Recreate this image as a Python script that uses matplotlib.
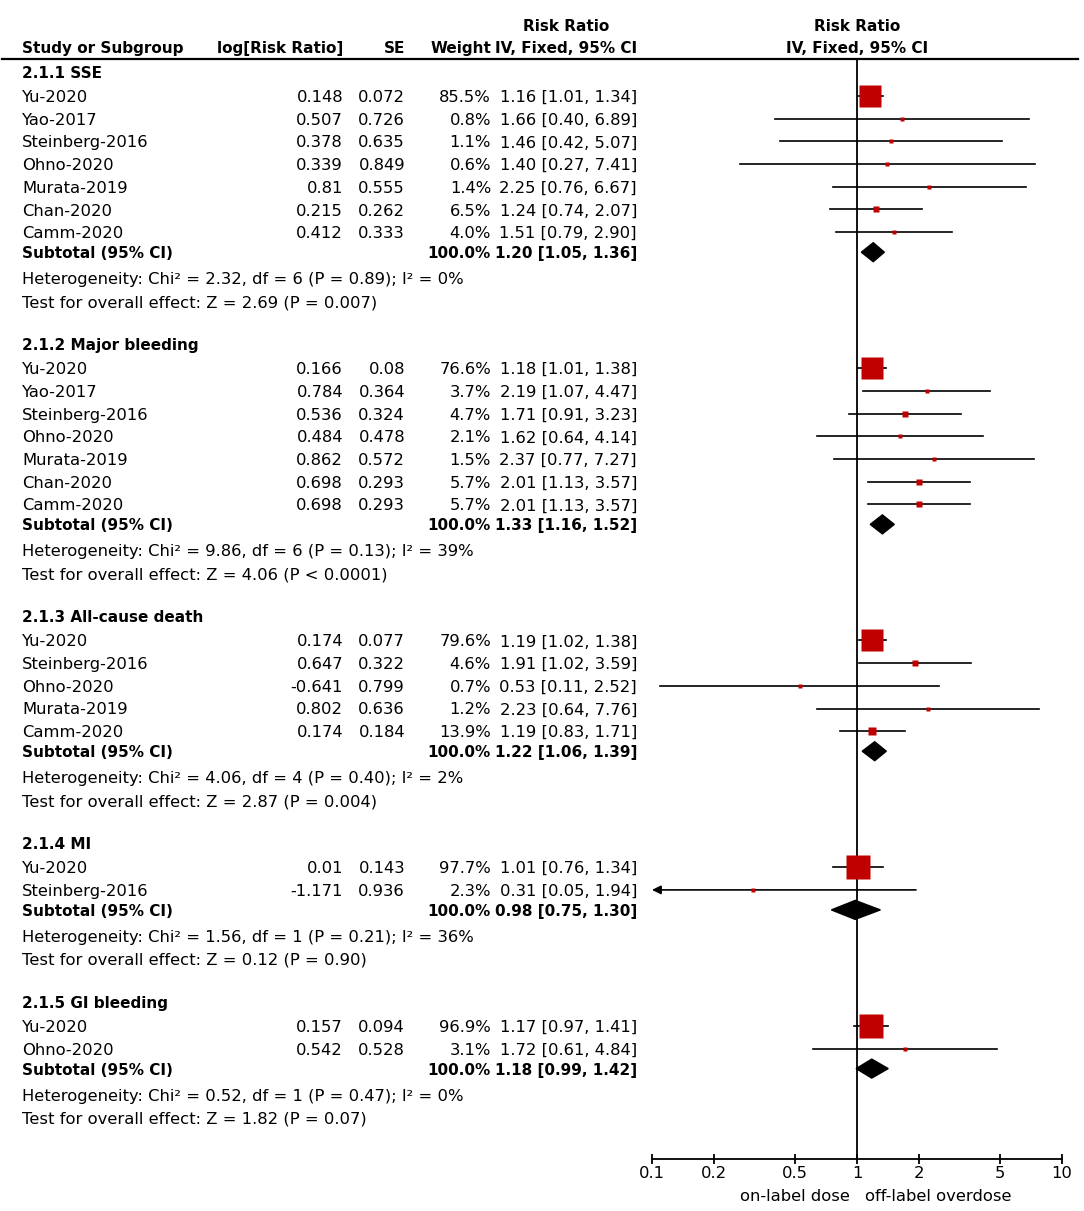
import numpy as np
import matplotlib.pyplot as plt

plt.rcParams['font.family'] = 'DejaVu Sans'
FS = 11.8
FS_BOLD = 11

groups = ["2.1.1 SSE", "2.1.2 Major bleeding", "2.1.3 All-cause death", "2.1.4 MI", "2.1.5 GI bleeding"]

studies = [
    ["Yu-2020", "Yao-2017", "Steinberg-2016", "Ohno-2020", "Murata-2019", "Chan-2020", "Camm-2020"],
    ["Yu-2020", "Yao-2017", "Steinberg-2016", "Ohno-2020", "Murata-2019", "Chan-2020", "Camm-2020"],
    ["Yu-2020", "Steinberg-2016", "Ohno-2020", "Murata-2019", "Camm-2020"],
    ["Yu-2020", "Steinberg-2016"],
    ["Yu-2020", "Ohno-2020"],
]
log_rr = [
    [0.148, 0.507, 0.378, 0.339, 0.81, 0.215, 0.412],
    [0.166, 0.784, 0.536, 0.484, 0.862, 0.698, 0.698],
    [0.174, 0.647, -0.641, 0.802, 0.174],
    [0.01, -1.171],
    [0.157, 0.542],
]
se = [
    [0.072, 0.726, 0.635, 0.849, 0.555, 0.262, 0.333],
    [0.08, 0.364, 0.324, 0.478, 0.572, 0.293, 0.293],
    [0.077, 0.322, 0.799, 0.636, 0.184],
    [0.143, 0.936],
    [0.094, 0.528],
]
weight = [
    [85.5, 0.8, 1.1, 0.6, 1.4, 6.5, 4.0],
    [76.6, 3.7, 4.7, 2.1, 1.5, 5.7, 5.7],
    [79.6, 4.6, 0.7, 1.2, 13.9],
    [97.7, 2.3],
    [96.9, 3.1],
]
rr = [
    [1.16, 1.66, 1.46, 1.40, 2.25, 1.24, 1.51],
    [1.18, 2.19, 1.71, 1.62, 2.37, 2.01, 2.01],
    [1.19, 1.91, 0.53, 2.23, 1.19],
    [1.01, 0.31],
    [1.17, 1.72],
]
rr_lo = [
    [1.01, 0.40, 0.42, 0.27, 0.76, 0.74, 0.79],
    [1.01, 1.07, 0.91, 0.64, 0.77, 1.13, 1.13],
    [1.02, 1.02, 0.11, 0.64, 0.83],
    [0.76, 0.05],
    [0.97, 0.61],
]
rr_hi = [
    [1.34, 6.89, 5.07, 7.41, 6.67, 2.07, 2.90],
    [1.38, 4.47, 3.23, 4.14, 7.27, 3.57, 3.57],
    [1.38, 3.59, 2.52, 7.76, 1.71],
    [1.34, 1.94],
    [1.41, 4.84],
]
sub_rr = [1.20, 1.33, 1.22, 0.98, 1.18]
sub_lo = [1.05, 1.16, 1.06, 0.75, 0.99]
sub_hi = [1.36, 1.52, 1.39, 1.30, 1.42]
het_chi2 = ["2.32", "9.86", "4.06", "1.56", "0.52"]
het_df = [6, 6, 4, 1, 1]
het_p = ["0.89", "0.13", "0.40", "0.21", "0.47"]
het_i2 = ["0%", "39%", "2%", "36%", "0%"]
z_val = ["2.69", "4.06", "2.87", "0.12", "1.82"]
z_p = ["= 0.007", "< 0.0001", "= 0.004", "= 0.90", "= 0.07"]

ticks = [0.1, 0.2, 0.5, 1, 2, 5, 10]
tick_labels = ["0.1", "0.2", "0.5", "1", "2", "5", "10"]

W, H = 1084, 1211
fig = plt.figure(figsize=(W / 100, H / 100), dpi=100)
tax = fig.add_axes([0, 0, 1, 1])
tax.set_xlim(0, W)
tax.set_ylim(H, 0)
tax.axis('off')

x0, x1, ytop, ybot = 652, 1062, 60, 1159
fax = fig.add_axes([x0 / W, (H - ybot) / H, (x1 - x0) / W, (ybot - ytop) / H])
fax.set_xscale('log')
fax.set_xlim(0.1, 10)
fax.set_ylim(ybot, ytop)
fax.patch.set_alpha(0)
for s in ['left', 'right', 'top']:
    fax.spines[s].set_visible(False)
fax.spines['bottom'].set_linewidth(1.3)
fax.set_yticks([])
fax.set_xticks(ticks)
fax.set_xticklabels(tick_labels, fontsize=FS)
fax.minorticks_off()
fax.tick_params(axis='x', direction='inout', length=7, width=1.3, pad=1.5)
fax.axvline(1, color='black', lw=1.3)


def txt(x, y, s, ha='left', bold=False):
    tax.text(x, y, s, ha=ha, va='center_baseline',
             fontsize=FS_BOLD if bold else FS,
             fontweight='bold' if bold else 'normal')


# header
txt(566, 25, "Risk Ratio", ha='center', bold=True)
txt(857, 25, "Risk Ratio", ha='center', bold=True)
txt(22, 47, "Study or Subgroup", bold=True)
txt(343, 47, "log[Risk Ratio]", ha='right', bold=True)
txt(405, 47, "SE", ha='right', bold=True)
txt(491, 47, "Weight", ha='right', bold=True)
txt(637, 47, "IV, Fixed, 95% CI", ha='right', bold=True)
txt(857, 47, "IV, Fixed, 95% CI", ha='center', bold=True)
tax.plot([2, 1078], [59, 59], color='black', lw=1.6)

red = '#C00000'
y = 72
for g in range(len(groups)):
    txt(22, y, groups[g], bold=True)
    y += 24
    for i in range(len(studies[g])):
        txt(22, y, studies[g][i])
        txt(343, y, str(log_rr[g][i]), ha='right')
        txt(405, y, str(se[g][i]), ha='right')
        txt(491, y, f"{weight[g][i]:.1f}%", ha='right')
        txt(637, y, f"{rr[g][i]:.2f} [{rr_lo[g][i]:.2f}, {rr_hi[g][i]:.2f}]", ha='right')
        lo, hi = rr_lo[g][i], rr_hi[g][i]
        if lo < 0.1:
            fax.annotate('', xy=(0.1, y), xytext=(hi, y),
                         arrowprops=dict(arrowstyle='-|>', color='black', lw=1.2,
                                         mutation_scale=13, shrinkA=0, shrinkB=0))
        else:
            fax.plot([lo, hi], [y, y], color='black', lw=1.2, zorder=2)
        side = max(3.5, 24 * np.sqrt(weight[g][i] / 100))
        fax.plot(rr[g][i], y, marker='s', ms=side / 1.389, color=red,
                 mec='none', zorder=3)
        y += 22.7
    y = y - 22.7 + 20
    txt(22, y, "Subtotal (95% CI)", bold=True)
    txt(491, y, "100.0%", ha='right', bold=True)
    txt(637, y, f"{sub_rr[g]:.2f} [{sub_lo[g]:.2f}, {sub_hi[g]:.2f}]", ha='right', bold=True)
    fax.fill([sub_lo[g], sub_rr[g], sub_hi[g], sub_rr[g]], [y, y - 9.5, y, y + 9.5],
             color='black', zorder=3)
    y += 26
    txt(22, y, f"Heterogeneity: Chi² = {het_chi2[g]}, df = {het_df[g]} (P = {het_p[g]}); I² = {het_i2[g]}")
    y += 23
    txt(22, y, f"Test for overall effect: Z = {z_val[g]} (P {z_p[g]})")
    y += 43

txt(850, 1195, "on-label dose", ha='right')
txt(865, 1195, "off-label overdose")

fig.savefig('out.png', dpi=100)
